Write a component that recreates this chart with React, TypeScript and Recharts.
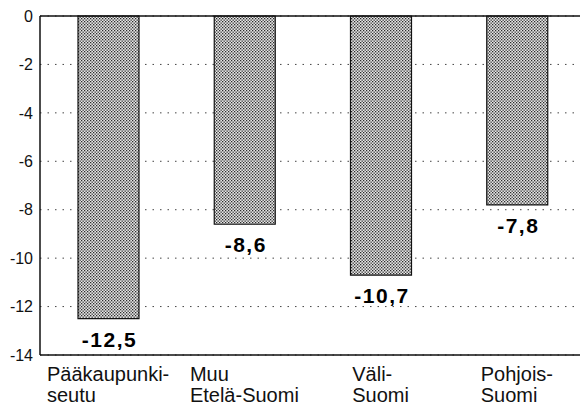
import { Bar, BarChart, CartesianGrid, LabelList, ReferenceLine, XAxis, YAxis } from "recharts";

const regions = ["Pääkaupunki-\nseutu", "Muu\nEtelä-Suomi", "Väli-\nSuomi", "Pohjois-\nSuomi"];
const change = [-12.5, -8.6, -10.7, -7.8];
const yTicks = [0, -2, -4, -6, -8, -10, -12, -14];

const data = regions.map((region, i) => ({ region, change: change[i] }));

const FONT = '"Liberation Sans", Arial, Helvetica, sans-serif';

let ctx: CanvasRenderingContext2D | null = null;
function textWidth(s: string, font: string) {
  if (!ctx) ctx = document.createElement("canvas").getContext("2d");
  if (!ctx) return s.length * 10;
  ctx.font = font;
  return ctx.measureText(s).width;
}

// category label: lines left-aligned, block centred under the bar
function RegionTick({ x, y, payload }: any) {
  const lines = String(payload.value).split("\n");
  const w = Math.max(...lines.map((l) => textWidth(l, `20px ${FONT}`)));
  const left = x - w / 2;
  return (
    <text x={left} y={y + 26} fontSize={20} fontFamily={FONT} fill="#111">
      {lines.map((l, i) => (
        <tspan key={i} x={left} dy={i === 0 ? 0 : 21}>
          {l}
        </tspan>
      ))}
    </text>
  );
}

function ValueLabel({ x, y, width, height, value }: any) {
  const bottom = Math.max(y, y + height);
  return (
    <text
      x={x + width / 2 + 1}
      y={bottom + 28}
      textAnchor="middle"
      fontSize={21}
      fontWeight="bold"
      letterSpacing={1.5}
      fontFamily={FONT}
      fill="#000"
    >
      {String(value).replace(".", ",")}
    </text>
  );
}

export default function App() {
  return (
    <div style={{ width: 580, height: 407 }}>
      <style>{`body { margin: 0; }`}</style>
      <BarChart
        width={580}
        height={407}
        data={data}
        margin={{ top: 16, right: -5, left: 0, bottom: 0 }}
        barCategoryGap={0}
      >
        <defs>
          <pattern id="stipple" width="3" height="3" patternUnits="userSpaceOnUse">
            <rect width="3" height="3" fill="#e6e6e6" />
            <rect x="0" y="0" width="1.3" height="1.3" fill="#2a2a2a" />
            <rect x="1.5" y="1.5" width="1.3" height="1.3" fill="#2a2a2a" />
          </pattern>
        </defs>
        <CartesianGrid vertical={false} stroke="#444" strokeDasharray="1.5 6" />
        <XAxis
          dataKey="region"
          height={52}
          interval={0}
          tickLine={false}
          tickSize={0}
          tickMargin={0}
          axisLine={{ stroke: "#111", strokeWidth: 1.5 }}
          tick={<RegionTick />}
        />
        <YAxis
          width={40}
          domain={[-14, 0]}
          ticks={yTicks}
          interval={0}
          tickLine={false}
          tickSize={0}
          tickMargin={7}
          axisLine={{ stroke: "#111", strokeWidth: 1.5 }}
          tick={{ fontSize: 16, fill: "#111", fontFamily: FONT }}
        />
        <ReferenceLine y={0} stroke="#111" strokeWidth={1.5} />
        <Bar
          dataKey="change"
          barSize={61}
          fill="url(#stipple)"
          stroke="#111"
          strokeWidth={1.2}
          isAnimationActive={false}
        >
          <LabelList dataKey="change" content={<ValueLabel />} />
        </Bar>
      </BarChart>
    </div>
  );
}
